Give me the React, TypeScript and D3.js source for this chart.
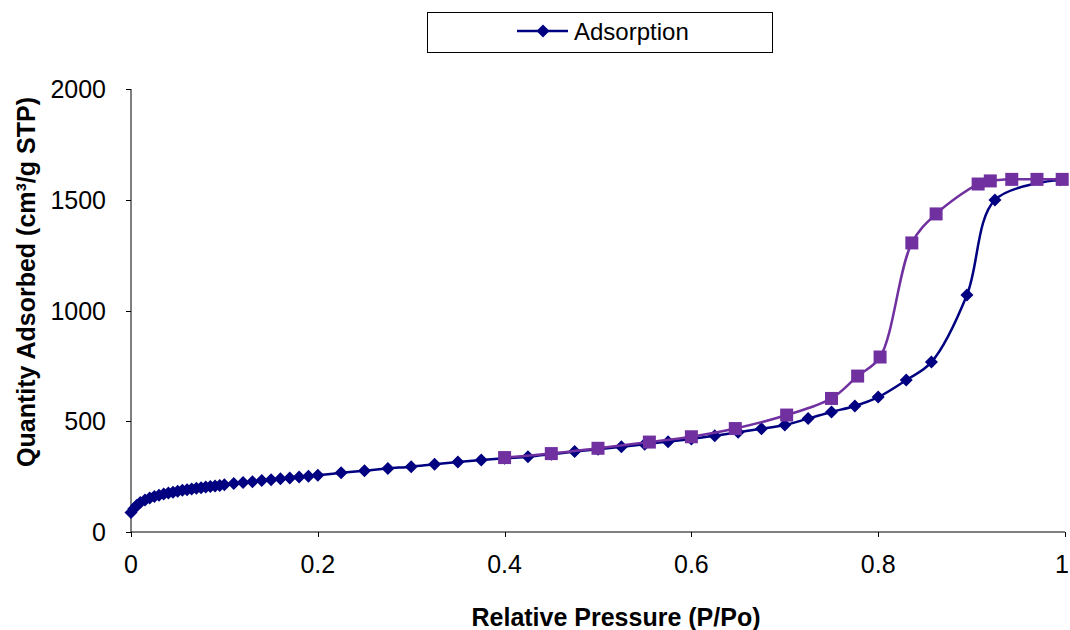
import React from "react";
import * as d3 from "d3";

const adsX = [0.0, 0.003, 0.006, 0.01, 0.015, 0.02, 0.025, 0.03, 0.035, 0.04, 0.045, 0.05, 0.055, 0.06, 0.065, 0.07, 0.075, 0.08, 0.085, 0.09, 0.095, 0.1, 0.11, 0.12, 0.13, 0.14, 0.15, 0.16, 0.17, 0.18, 0.19, 0.2, 0.225, 0.25, 0.275, 0.3, 0.325, 0.35, 0.375, 0.4, 0.425, 0.45, 0.475, 0.5, 0.525, 0.55, 0.575, 0.6, 0.625, 0.65, 0.675, 0.7, 0.725, 0.75, 0.775, 0.8, 0.83, 0.857, 0.895, 0.925, 0.995];
const adsY = [88, 105, 120, 133, 145, 153, 160, 166, 171, 176, 180, 184, 188, 191, 194, 197, 200, 203, 205, 208, 210, 213, 219, 223, 227, 232, 236, 240, 244, 248, 252, 256, 267, 277, 287, 295, 306, 316, 325, 333, 340, 351, 363, 374, 385, 396, 408, 420, 435, 450, 466, 483, 512, 542, 569, 609, 686, 767, 1070, 1499, 1590];

const desX = [0.4, 0.45, 0.5, 0.555, 0.6, 0.647, 0.702, 0.75, 0.778, 0.802, 0.836, 0.862, 0.907, 0.92, 0.943, 0.97, 0.997];
const desY = [336, 354, 378, 406, 430, 467, 528, 603, 704, 790, 1305, 1436, 1571, 1585, 1592, 1592, 1592];

const xTicks = [0, 0.2, 0.4, 0.6, 0.8, 1];
const xTickLabels = ["0", "0.2", "0.4", "0.6", "0.8", "1"];
const yTicks = [0, 500, 1000, 1500, 2000];
const yTickLabels = ["0", "500", "1000", "1500", "2000"];

const FONT = "'Liberation Sans', Arial, Helvetica, sans-serif";
const ADS_COLOR = "#000080";
const DES_COLOR = "#7030A0";

export default function App() {
  const left = 131, right = 1065, top = 89, bottom = 532;
  const x = d3.scaleLinear().domain([0, 1]).range([left, right]);
  const y = d3.scaleLinear().domain([0, 2000]).range([bottom, top]);

  const adsPts: [number, number][] = adsX.map((v, i) => [v, adsY[i]]);
  const desPts: [number, number][] = desX.map((v, i) => [v, desY[i]]);

  const line = d3
    .line<[number, number]>()
    .x((d) => x(d[0]))
    .y((d) => y(d[1]))
    .curve(d3.curveCatmullRom.alpha(0.5));

  const dHalf = 6.5;
  const sq = 13;
  const diamond = (cx: number, cy: number) =>
    `M${cx},${cy - dHalf}L${cx + dHalf},${cy}L${cx},${cy + dHalf}L${cx - dHalf},${cy}Z`;

  return (
    <svg
      width={1070}
      height={630}
      style={{ position: "absolute", left: 0, top: 0, background: "#fff" }}
      fontFamily={FONT}
    >
      <rect x={0} y={0} width={1070} height={630} fill="#fff" />

      {/* Legend */}
      <rect x={427.5} y={12.5} width={345} height={40} fill="#fff" stroke="#000" strokeWidth={1} />
      <line x1={517} x2={568} y1={31} y2={31} stroke={ADS_COLOR} strokeWidth={2.5} />
      <path d={diamond(543, 31)} fill={ADS_COLOR} />
      <text x={574} y={31} dy="0.36em" fontSize={24} fill="#000">Adsorption</text>

      {/* Axes */}
      <line x1={left} x2={left} y1={top} y2={bottom} stroke="#000" strokeWidth={1} />
      <line x1={left} x2={right} y1={bottom} y2={bottom} stroke="#000" strokeWidth={1} />
      {yTicks.map((t, i) => (
        <g key={"y" + i}>
          <line x1={left - 5} x2={left} y1={Math.round(y(t)) + 0.5} y2={Math.round(y(t)) + 0.5} stroke="#000" />
          <text x={106} y={y(t)} dy="0.36em" textAnchor="end" fontSize={25} fill="#000">
            {yTickLabels[i]}
          </text>
        </g>
      ))}
      {xTicks.map((t, i) => (
        <g key={"x" + i}>
          <line x1={Math.round(x(t)) + 0.5} x2={Math.round(x(t)) + 0.5} y1={bottom} y2={bottom + 5} stroke="#000" />
          <text x={Math.min(x(t), 1062)} y={573} textAnchor="middle" fontSize={25} fill="#000">
            {xTickLabels[i]}
          </text>
        </g>
      ))}

      {/* Axis titles */}
      <text x={616} y={626} textAnchor="middle" fontSize={25} fontWeight="bold" fill="#000">
        Relative Pressure (P/Po)
      </text>
      <text
        transform="translate(35,282) rotate(-90)"
        textAnchor="middle"
        fontSize={25}
        fontWeight="bold"
        fill="#000"
      >
        Quantity Adsorbed (cm³/g STP)
      </text>

      {/* Adsorption series */}
      <path d={line(adsPts) || ""} fill="none" stroke={ADS_COLOR} strokeWidth={2.5} />
      {adsPts.map((p, i) => (
        <path key={"a" + i} d={diamond(x(p[0]), y(p[1]))} fill={ADS_COLOR} />
      ))}

      {/* Desorption series */}
      <path d={line(desPts) || ""} fill="none" stroke={DES_COLOR} strokeWidth={2.5} />
      {desPts.map((p, i) => (
        <rect key={"d" + i} x={x(p[0]) - sq / 2} y={y(p[1]) - sq / 2} width={sq} height={sq} fill={DES_COLOR} />
      ))}
    </svg>
  );
}
